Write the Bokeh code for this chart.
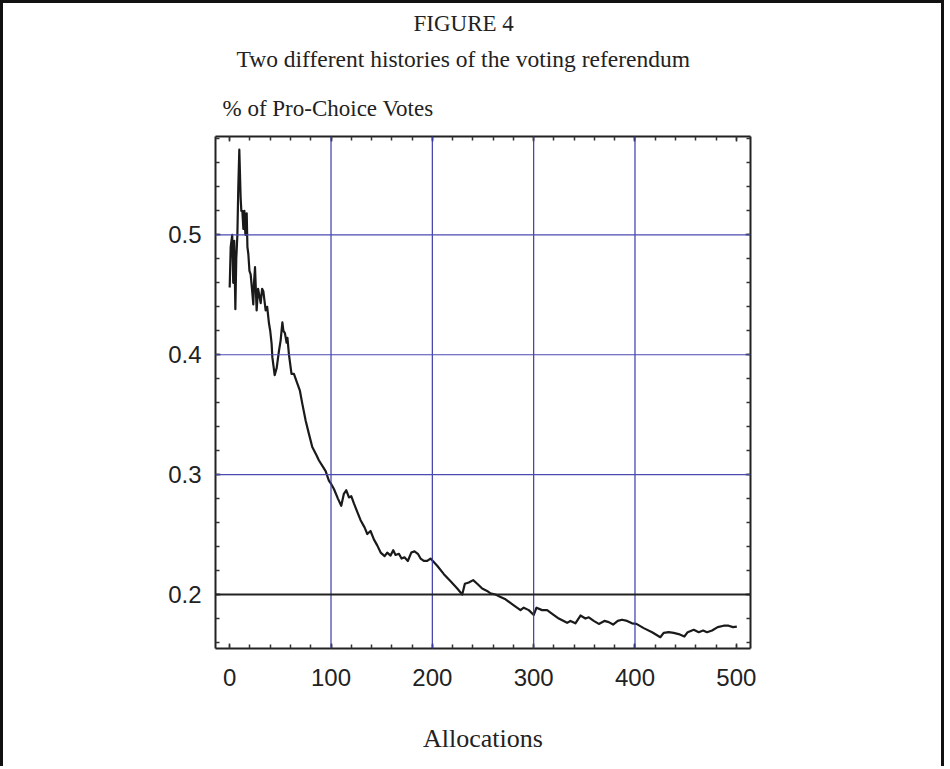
from bokeh.plotting import figure
from bokeh.models import Range1d, LinearAxis, FixedTicker, Span, Title
from bokeh.embed import file_html
from bokeh.resources import INLINE

# ---- data ----
alloc = [0, 1, 2.5, 3.5, 4.5, 5.6, 6.5, 7.6, 8.5, 9.5, 10.8, 11.5, 12.5, 13.5, 14.5,
         15.5, 16.8, 17.5, 18.4, 19.5, 20.7, 22, 23.3, 24, 25, 26.6, 28, 28.9, 30.6,
         32, 33.2, 35.5, 37, 38.8, 40, 41.4, 42.1, 44.4, 46.4, 48.6, 50.3, 52, 53,
         54.5, 56.2, 57, 58.5, 61, 63.4, 66.8, 69.3, 71.7, 75, 78.2, 81.5, 85.8, 88,
         92.4, 94.7, 97.9, 100.3, 102.9, 106.8, 110.1, 112.7, 115, 117.7, 120, 122.6,
         125.9, 129.2, 133.1, 135.8, 139, 142.3, 145.6, 149, 152.9, 155.5, 158.8,
         161.4, 163.7, 167, 169.6, 172.5, 175.8, 179.2, 182.4, 185.7, 188.4, 191.6,
         194.9, 198.2, 200.5, 204.8, 211.4, 218, 224.6, 229.5, 232.1, 236, 240.3,
         244.3, 249.2, 254, 257.4, 262.3, 267.3, 272.2, 280.4, 287, 290.2, 295.2,
         300.1, 302.8, 308.3, 313.3, 316.6, 324.8, 333, 336.3, 341.2, 346.2, 351.1,
         354.4, 359.3, 364.3, 369.8, 374.1, 378.4, 383, 387.2, 392.2, 397.1, 401.4,
         408.6, 416.9, 425, 428.3, 433.3, 438.2, 443.1, 448.7, 452, 458, 462.9,
         467.2, 471.1, 476.1, 481.6, 487.5, 492.4, 496.7, 500.5]
share = [0.456, 0.49, 0.5, 0.46, 0.495, 0.438, 0.48, 0.5, 0.54, 0.571, 0.531, 0.52,
         0.52, 0.505, 0.52, 0.50, 0.518, 0.49, 0.484, 0.47, 0.467, 0.455, 0.442, 0.46,
         0.473, 0.437, 0.455, 0.451, 0.443, 0.455, 0.453, 0.437, 0.44, 0.426, 0.42,
         0.409, 0.398, 0.383, 0.389, 0.403, 0.412, 0.427, 0.42, 0.418, 0.41, 0.414,
         0.40, 0.384, 0.384, 0.376, 0.37, 0.359, 0.345, 0.334, 0.323, 0.316, 0.312,
         0.306, 0.303, 0.295, 0.292, 0.288, 0.28, 0.274, 0.284, 0.287, 0.281, 0.282,
         0.276, 0.269, 0.262, 0.256, 0.2505, 0.253, 0.246, 0.241, 0.235, 0.232, 0.235,
         0.2325, 0.237, 0.233, 0.234, 0.23, 0.231, 0.228, 0.235, 0.236, 0.234, 0.23,
         0.228, 0.228, 0.23, 0.228, 0.224, 0.217, 0.211, 0.205, 0.2, 0.209, 0.21,
         0.212, 0.209, 0.205, 0.203, 0.201, 0.2, 0.198, 0.196, 0.191, 0.187, 0.189,
         0.187, 0.183, 0.189, 0.187, 0.187, 0.185, 0.18, 0.1764, 0.178, 0.176, 0.1825,
         0.18, 0.181, 0.178, 0.1755, 0.178, 0.177, 0.175, 0.178, 0.179, 0.178, 0.176,
         0.1755, 0.172, 0.1686, 0.1644, 0.168, 0.1686, 0.168, 0.167, 0.165, 0.1686,
         0.1706, 0.1686, 0.170, 0.1686, 0.170, 0.1728, 0.174, 0.174, 0.1728, 0.1733]

x_ticks = [0, 100, 200, 300, 400, 500]
x_minor = [0, 20, 40, 60, 80, 100, 120, 140, 160, 180, 200, 220, 240, 260, 280, 300,
           320, 340, 360, 380, 400, 420, 440, 460, 480, 500]
y_ticks = [0.2, 0.3, 0.4, 0.5]
y_minor = [0.16, 0.18, 0.2, 0.22, 0.24, 0.26, 0.28, 0.3, 0.32, 0.34, 0.36, 0.38, 0.4,
           0.42, 0.44, 0.46, 0.48, 0.5, 0.52, 0.54, 0.56, 0.58]
x_grid = [100, 200, 300, 400]
y_grid = [0.3, 0.4, 0.5]
y_ref = 0.2

title_text = "FIGURE 4"
subtitle_text = "Two different histories of the voting referendum"
y_label_text = "% of Pro-Choice Votes"
x_label_text = "Allocations"

p = figure(width=944, height=766, output_backend="svg", toolbar_location=None,
           x_range=Range1d(-14, 514), y_range=Range1d(0.155, 0.582),
           min_border_left=212, min_border_right=197, min_border_top=133,
           min_border_bottom=121)
p.styles = {"border-top": "3px solid #111", "border-left": "3px solid #111",
            "border-right": "3px solid #111"}
p.background_fill_color = "white"
p.border_fill_color = "white"
p.outline_line_color = None
p.xgrid.visible = False
p.ygrid.visible = False

p.add_layout(LinearAxis(), "above")
p.add_layout(LinearAxis(), "right")


def style_axis(ax, ticks, minor, labels, standoff=14):
    ax.ticker = FixedTicker(ticks=ticks, minor_ticks=minor)
    ax.major_tick_in = 5
    ax.major_tick_out = 0
    ax.minor_tick_in = 4
    ax.minor_tick_out = 0
    ax.axis_line_width = 2
    ax.axis_line_color = "#222222"
    ax.major_tick_line_color = "#333333"
    ax.minor_tick_line_color = "#333333"
    ax.major_tick_line_width = 1.5
    ax.minor_tick_line_width = 1.5
    ax.major_label_text_font = "Liberation Sans"
    ax.major_label_text_font_size = "24px"
    ax.major_label_text_color = "#222222"
    ax.major_label_standoff = standoff
    if not labels:
        ax.major_label_overrides = {t: "" for t in ticks}
        ax.major_label_text_font_size = "1px"
        ax.major_label_standoff = standoff


style_axis(p.below[0], x_ticks, x_minor, True, standoff=20)
style_axis(p.above[0], x_ticks, x_minor, False, standoff=4)
style_axis(p.left[0], y_ticks, y_minor, True)
style_axis(p.right[0], y_ticks, y_minor, False, standoff=0)

xax = p.below[0]
xax.axis_label = x_label_text
xax.axis_label_standoff = 35
xax.axis_label_text_font = "Liberation Serif"
xax.axis_label_text_font_size = "26px"
xax.axis_label_text_font_style = "normal"
xax.axis_label_text_color = "#222222"

for gx in x_grid:
    p.add_layout(Span(location=gx, dimension="height", line_color="#3a3aa8",
                      line_width=1.2))
for gy in y_grid:
    p.add_layout(Span(location=gy, dimension="width", line_color="#4a4ab0",
                      line_width=1.2))
p.add_layout(Span(location=y_ref, dimension="width", line_color="#222222",
                  line_width=2))

p.line(alloc, share, line_width=2.2, line_color="#1a1a1a", line_join="round")

serif = "Liberation Serif"


def make_title(text, size, offset, standoff):
    return Title(text=text, align="left", offset=offset, standoff=standoff,
                 text_font=serif, text_font_size=size, text_font_style="normal",
                 text_color="#222222")


# stacked outward from the plot frame
p.add_layout(make_title(y_label_text, "23px", 7, 32), "above")
p.add_layout(make_title(subtitle_text, "23.5px", 21, 11), "above")
p.add_layout(make_title(title_text, "23px", 198, 5), "above")

open("out.html", "w").write(file_html(p, INLINE))
